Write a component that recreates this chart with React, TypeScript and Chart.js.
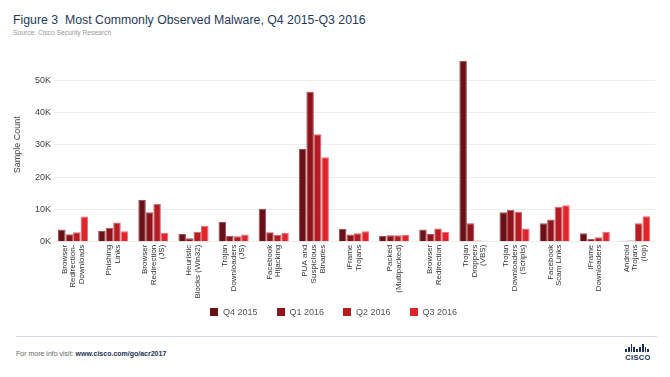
import React, { useEffect, useRef } from "react";
import { Chart, registerables } from "chart.js";

Chart.register(...registerables);

const categories: string[][] = [
  ["Browser", "Redirection-", "Downloads"],
  ["Phishing", "Links"],
  ["Browser", "Redirection", "(JS)"],
  ["Heuristic", "Blocks (Win32)"],
  ["Trojan", "Downloaders", "(JS)"],
  ["Facebook", "Hijacking"],
  ["PUA and", "Suspicious", "Binaries"],
  ["iFrame", "Trojans"],
  ["Packed", "(Multipacked)"],
  ["Browser", "Redirection"],
  ["Trojan", "Droppers", "(VBS)"],
  ["Trojan", "Downloaders", "(Scripts)"],
  ["Facebook", "Scam Links"],
  ["iFrame", "Downloaders"],
  ["Android", "Trojans", "(Iop)"],
];

const seriesNames = ["Q4 2015", "Q1 2016", "Q2 2016", "Q3 2016"];

const q4_2015 = [3800, 3300, 12900, 2400, 6100, 10200, 28700, 3900, 1800, 3800, 56000, 9100, 5700, 2600, 300];
const q1_2016 = [2300, 4300, 9100, 1100, 1800, 2900, 46400, 2200, 2000, 2400, 5700, 9900, 6900, 800, 400];
const q2_2016 = [2900, 5900, 11700, 3100, 1700, 2100, 33200, 2600, 2000, 4100, 400, 9300, 10800, 1400, 5700];
const q3_2016 = [7800, 3200, 2800, 4900, 2200, 2800, 26100, 3200, 2100, 3000, 300, 4100, 11300, 3100, 7900];

const yTickStep = 10000;
const yMax = 60000;
const yLastLabelled = 50000;

const fills = ["#6a1117", "#8e141a", "#b81c23", "#e2252d"];
const borders = ["#9a4e53", "#b4565b", "#d2666b", "#ee6e73"];

const FONT = "'Liberation Sans', Arial, Helvetica, sans-serif";

const categoryLabelPlugin = {
  id: "categoryLabels",
  afterDraw(chart: any) {
    const xs = chart.scales.x;
    const ctx = chart.ctx;
    const size = 8;
    const lh = 8.6;
    ctx.save();
    ctx.font = `${size}px ${FONT}`;
    ctx.fillStyle = "#333";
    ctx.textAlign = "right";
    ctx.textBaseline = "middle";
    categories.forEach((lines, i) => {
      const x = xs.getPixelForValue(i);
      const y = chart.chartArea.bottom + 3;
      ctx.save();
      ctx.translate(x, y);
      ctx.rotate(-Math.PI / 2);
      lines.forEach((line, j) => {
        ctx.fillText(line, 0, (j - (lines.length - 1) / 2) * lh);
      });
      ctx.restore();
    });
    ctx.restore();
  },
};

function CiscoLogo() {
  const heights = [3, 5, 8, 5, 3, 5, 8, 5, 3];
  return (
    <div style={{ position: "absolute", left: 625, top: 343, width: 26, height: 22 }}>
      <div style={{ display: "flex", alignItems: "flex-end", height: 9, gap: 1 }}>
        {heights.map((h, i) => (
          <div key={i} style={{ width: 1.8, height: h, background: "#1d2f55" }} />
        ))}
      </div>
      <div
        style={{
          fontFamily: FONT,
          fontWeight: "bold",
          fontSize: 7.5,
          color: "#1d2f55",
          textAlign: "center",
          marginTop: 1,
          letterSpacing: 0.3,
          lineHeight: "9px",
        }}
      >
        CISCO
      </div>
    </div>
  );
}

function Legend() {
  return (
    <>
      {seriesNames.map((name, i) => (
        <div
          key={name}
          style={{
            position: "absolute",
            left: 210 + i * 66.5,
            top: 306,
            height: 12,
            display: "flex",
            alignItems: "center",
            whiteSpace: "nowrap",
          }}
        >
          <div style={{ width: 8, height: 8, background: fills[i], marginRight: 5 }} />
          <span style={{ fontFamily: FONT, fontSize: 9, color: "#555", lineHeight: "12px" }}>{name}</span>
        </div>
      ))}
    </>
  );
}

export default function App() {
  const canvasRef = useRef<HTMLCanvasElement | null>(null);

  useEffect(() => {
    if (!canvasRef.current) return;
    const allSeries = [q4_2015, q1_2016, q2_2016, q3_2016];
    const chart = new Chart(canvasRef.current, {
      type: "bar",
      data: {
        labels: categories.map((c) => c.join(" ")),
        datasets: allSeries.map((d, i) => ({
          label: seriesNames[i],
          data: d,
          backgroundColor: fills[i],
          borderColor: borders[i],
          borderWidth: 1,
          borderSkipped: "bottom",
          categoryPercentage: 0.75,
          barPercentage: 1.0,
        })),
      },
      options: {
        responsive: false,
        animation: false,
        layout: { padding: { top: 47.7, left: 0, right: 15, bottom: 0 } },
        plugins: {
          tooltip: { enabled: false },
          legend: { display: false },
        },
        scales: {
          x: {
            grid: { display: false, drawTicks: false },
            border: { display: false },
            ticks: { display: false },
            afterFit: (s: any) => {
              s.height = 70.3;
            },
          },
          y: {
            min: 0,
            max: yMax,
            grid: {
              color: (c: any) => (c.tick && c.tick.value > yLastLabelled ? "rgba(0,0,0,0)" : "#eeeeee"),
              lineWidth: 1,
              drawTicks: false,
            },
            border: { display: false },
            ticks: {
              stepSize: yTickStep,
              padding: 2,
              color: "#444",
              font: { family: FONT, size: 9 },
              callback: (v: any) => (Number(v) > yLastLabelled ? "" : Number(v) / 1000 + "K"),
            },
            title: {
              display: true,
              text: "Sample Count",
              color: "#444",
              font: { family: FONT, size: 9 },
              padding: { top: 12, bottom: 0 },
            },
            afterFit: (s: any) => {
              s.width = 53;
            },
          },
        },
      },
      plugins: [categoryLabelPlugin],
    });
    return () => chart.destroy();
  }, []);

  return (
    <div style={{ position: "absolute", left: 0, top: 0, width: 670, height: 377, background: "#fff", overflow: "hidden" }}>
      <div
        style={{
          position: "absolute",
          left: 13,
          top: 12,
          fontFamily: FONT,
          fontSize: 12.3,
          color: "#26395a",
          whiteSpace: "pre",
          lineHeight: "16px",
        }}
      >
        {"Figure 3  Most Commonly Observed Malware, Q4 2015-Q3 2016"}
      </div>
      <div
        style={{
          position: "absolute",
          left: 13,
          top: 28,
          fontFamily: FONT,
          fontSize: 6.7,
          color: "#999",
          lineHeight: "9px",
        }}
      >
        Source: Cisco Security Research
      </div>
      <canvas ref={canvasRef} width={670} height={312} style={{ position: "absolute", left: 0, top: 0 }} />
      <Legend />
      <div style={{ position: "absolute", left: 16, top: 336, width: 641, height: 1, background: "#d5dae2" }} />
      <div
        style={{
          position: "absolute",
          left: 16,
          top: 349,
          fontFamily: FONT,
          fontSize: 7,
          color: "#666",
          lineHeight: "10px",
          whiteSpace: "pre",
        }}
      >
        {"For more info visit: "}
        <span style={{ fontWeight: "bold", color: "#1d2f55" }}>www.cisco.com/go/acr2017</span>
      </div>
      <CiscoLogo />
    </div>
  );
}
